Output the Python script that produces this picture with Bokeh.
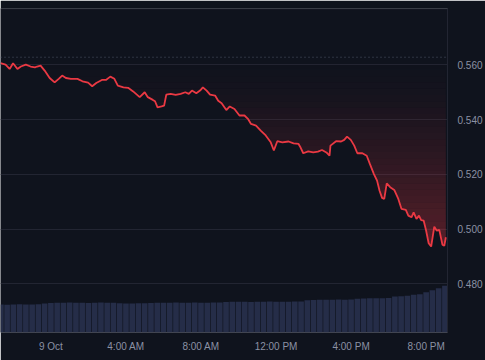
import numpy as np
import pandas as pd
from bokeh.plotting import figure
from bokeh.models import Range1d, FixedTicker, Span, PrintfTickFormatter
from bokeh.embed import file_html
from bokeh.resources import INLINE

# ---- data ----
price_times = [
    "08 21:19", "08 21:35", "08 21:48", "08 21:59", "08 22:13", "08 22:24", "08 22:40", "08 22:55",
    "08 23:09", "08 23:16", "08 23:27", "08 23:40", "08 23:56", "09 00:12", "09 00:25", "09 00:36",
    "09 00:48", "09 01:04", "09 01:25", "09 01:41", "09 01:59", "09 02:12", "09 02:25", "09 02:43",
    "09 02:56", "09 03:10", "09 03:23", "09 03:34", "09 03:52", "09 04:07", "09 04:23", "09 04:44",
    "09 05:00", "09 05:10", "09 05:26", "09 05:33", "09 05:41", "09 05:54", "09 06:02", "09 06:09",
    "09 06:23", "09 06:39", "09 06:55", "09 07:10", "09 07:21", "09 07:31", "09 07:45", "09 07:57",
    "09 08:06", "09 08:18", "09 08:29", "09 08:45", "09 08:55", "09 09:06", "09 09:21", "09 09:32",
    "09 09:47", "09 10:03", "09 10:19", "09 10:30", "09 10:40", "09 10:56", "09 11:11", "09 11:27",
    "09 11:43", "09 11:53", "09 12:04", "09 12:20", "09 12:40", "09 12:56", "09 13:12", "09 13:17",
    "09 13:27", "09 13:43", "09 13:59", "09 14:14", "09 14:27", "09 14:41", "09 14:51", "09 14:54",
    "09 15:12", "09 15:28", "09 15:38", "09 15:47", "09 15:59", "09 16:10", "09 16:20", "09 16:36",
    "09 16:50", "09 17:00", "09 17:13", "09 17:23", "09 17:31", "09 17:39", "09 17:46", "09 17:54",
    "09 18:05", "09 18:18", "09 18:31", "09 18:41", "09 18:55", "09 19:03", "09 19:13", "09 19:20",
    "09 19:29", "09 19:37", "09 19:44", "09 19:52", "09 20:00", "09 20:08", "09 20:16", "09 20:26",
    "09 20:34", "09 20:42", "09 20:52", "09 20:58", "09 21:03",
]
prices = [
    0.5606, 0.5601, 0.5585, 0.5606, 0.5585, 0.5594, 0.5601, 0.5594,
    0.5591, 0.5594, 0.5597, 0.5579, 0.5552, 0.5536, 0.5549, 0.5561,
    0.5552, 0.5549, 0.5549, 0.5540, 0.5535, 0.5522, 0.5534, 0.5545,
    0.5545, 0.5557, 0.5549, 0.5524, 0.5518, 0.5516, 0.5503, 0.5482,
    0.5500, 0.5482, 0.5472, 0.5467, 0.5445, 0.5448, 0.5451, 0.5491,
    0.5494, 0.5490, 0.5494, 0.5500, 0.5494, 0.5506, 0.5496, 0.5506,
    0.5518, 0.5506, 0.5491, 0.5488, 0.5469, 0.5460, 0.5435, 0.5448,
    0.5439, 0.5415, 0.5415, 0.5403, 0.5384, 0.5378, 0.5360, 0.5342,
    0.5317, 0.5287, 0.5321, 0.5317, 0.5320, 0.5313, 0.5311, 0.5301,
    0.5277, 0.5284, 0.5280, 0.5283, 0.5289, 0.5280, 0.5268, 0.5305,
    0.5321, 0.5320, 0.5326, 0.5338, 0.5326, 0.5305, 0.5277, 0.5277,
    0.5268, 0.5238, 0.5201, 0.5177, 0.5140, 0.5114, 0.5110, 0.5167,
    0.5153, 0.5143, 0.5110, 0.5074, 0.5070, 0.5049, 0.5043, 0.5061,
    0.5037, 0.5049, 0.5033, 0.5031, 0.4994, 0.4948, 0.4936, 0.5009,
    0.4994, 0.4997, 0.4943, 0.4939, 0.4970,
]
open_price = 0.5628

volume_start = "2024-10-08 21:20"
volume_step_min = 20
volumes = [  # millions
    112, 111, 112, 113, 112, 112, 113,
    116,
    118, 119, 119, 120, 119, 119, 118, 119, 120, 119, 119,
    117, 116, 116, 117, 117,
    118, 119, 119, 119, 120, 119, 119, 120, 119, 119, 120, 120,
    122, 123, 123, 123, 122, 123, 123, 124, 123, 123, 123, 124, 124,
    129, 130, 131, 131, 131, 132, 131, 132,
    135, 136, 137, 137, 137, 138,
    144, 145, 147,
    151, 153,
    161, 168, 176, 186,
]

x_tick_times = ["2024-10-09 00:00", "2024-10-09 04:00", "2024-10-09 08:00",
                "2024-10-09 12:00", "2024-10-09 16:00", "2024-10-09 20:00"]
x_tick_labels = ["9 Oct", "4:00 AM", "8:00 AM", "12:00 PM", "4:00 PM", "8:00 PM"]
y_ticks = [0.48, 0.50, 0.52, 0.54, 0.56]

# ---- styling ----
BG = "#0f131d"
GRID = "#222532"
RED = "#ea3943"
VOL = "#252d48"
LABEL = "#8b91a4"
FONT = "Liberation Sans"

t = pd.to_datetime(["2024-10-" + s for s in price_times])
pr = np.array(prices)
vt = pd.date_range(volume_start, periods=len(volumes), freq=f"{volume_step_min}min")

p = figure(width=485, height=360, x_axis_type="datetime", y_axis_location="right",
           x_range=Range1d(pd.Timestamp("2024-10-08 21:18:50"), pd.Timestamp("2024-10-09 21:08:17")),
           y_range=Range1d(0.4622, 0.5806),
           output_backend="svg", toolbar_location=None,
           min_border_left=0, min_border_right=30, min_border_top=8, min_border_bottom=28,
           background_fill_color=BG, border_fill_color=BG, outline_line_color=None)

p.extra_y_ranges = {"vol": Range1d(0, 1292)}

# gradient fill between open line and price line (non-overlapping bands)
n_bands = 30
edges = np.linspace(open_price, pr.min(), n_bands + 1)
for k in range(n_bands):
    top_lv, bot_lv = edges[k], edges[k + 1]
    lower = np.maximum(bot_lv, pr)
    upper = np.maximum(top_lv, lower)
    frac = (k + 0.5) / n_bands
    p.varea(x=t, y1=lower, y2=upper, fill_color=RED, fill_alpha=0.34 * frac ** 1.4)

p.vbar(x=vt, top=volumes, bottom=0, width=volume_step_min * 60 * 1000 * 0.9,
       y_range_name="vol", fill_color=VOL, line_color=None)

p.add_layout(Span(location=open_price, dimension="width", line_color="#50566a",
                  line_dash="1 3", line_width=1))
p.add_layout(Span(location=0.5805, dimension="width", line_color=GRID, line_width=1))

p.line(t, pr, line_color=RED, line_width=1.8)

# axes
ymaj = p.yaxis[0]
ymaj.ticker = FixedTicker(ticks=y_ticks)
ymaj.formatter = PrintfTickFormatter(format="%.3f")
ymaj.axis_line_color = GRID
ymaj.major_tick_line_color = None
ymaj.minor_tick_line_color = None
ymaj.major_label_standoff = 4
ymaj.major_label_text_font = FONT
ymaj.major_label_text_font_size = "10px"
ymaj.major_label_text_color = LABEL

tick_ms = [float(pd.Timestamp(s).value // 10**6) for s in x_tick_times]
xax = p.xaxis[0]
xax.ticker = FixedTicker(ticks=tick_ms)
xax.major_label_overrides = {k: v for k, v in zip(tick_ms, x_tick_labels)}
xax.axis_line_color = None
xax.major_tick_line_color = None
xax.minor_tick_line_color = None
xax.major_label_standoff = 2
xax.major_label_text_font = FONT
xax.major_label_text_font_size = "10px"
xax.major_label_text_color = LABEL

p.xgrid.visible = False
p.ygrid.grid_line_color = GRID
p.ygrid.grid_line_width = 1

open("out.html", "w").write(file_html(p, INLINE))
